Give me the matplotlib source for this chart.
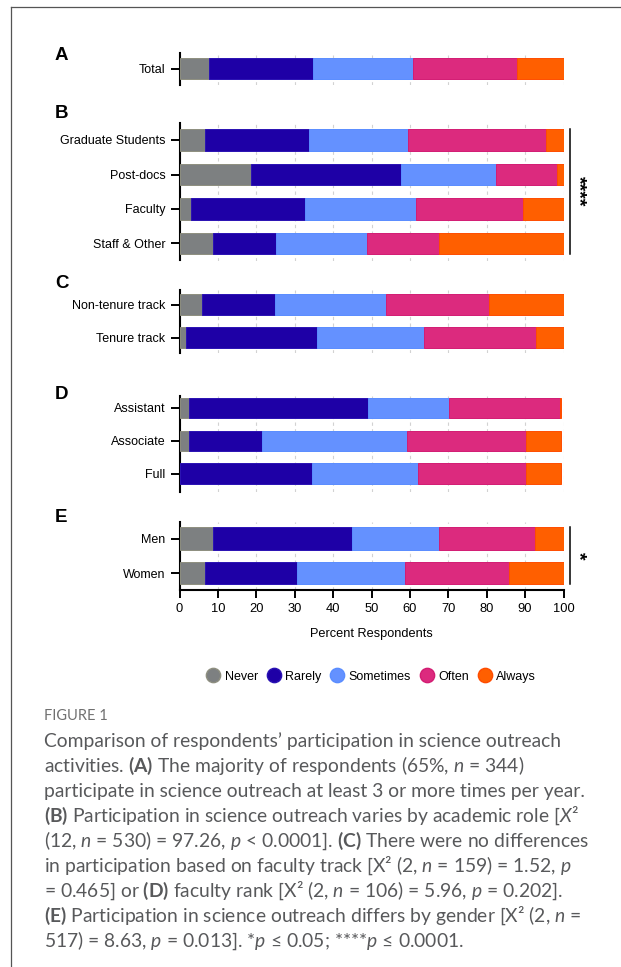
import matplotlib
matplotlib.use("Agg")
import matplotlib.pyplot as plt
from matplotlib.lines import Line2D
import numpy as np

plt.rcParams['font.family'] = ['Liberation Sans', 'DejaVu Sans']
plt.rcParams['mathtext.fontset'] = 'custom'
plt.rcParams['mathtext.rm'] = 'Lato'
plt.rcParams['mathtext.it'] = 'Lato:italic'
plt.rcParams['mathtext.bf'] = 'Lato:bold'

# ---- data: percent of respondents per response frequency ----
responses = ["Never", "Rarely", "Sometimes", "Often", "Always"]
colors = ["#7d8081", "#1e00a6", "#6491ff", "#dc2a7e", "#ff5f00"]
edge_colors = ["#8e8f80", "#2a12b4", "#5a8dff", "#d31c73", "#ff4c00"]

total_groups = ["Total"]
total_pct = [[7.6, 27.1, 26.0, 27.2, 12.1]]

role_groups = ["Graduate Students", "Post-docs", "Faculty", "Staff & Other"]
role_pct = [[6.7, 27.1, 25.8, 35.9, 4.5],
            [18.6, 39.0, 24.9, 15.8, 1.7],
            [3.0, 29.7, 29.0, 27.7, 10.6],
            [8.8, 16.2, 23.7, 18.8, 32.5]]

track_groups = ["Non-tenure track", "Tenure track"]
track_pct = [[5.8, 19.0, 29.1, 26.7, 19.4],
             [1.6, 34.1, 28.1, 29.1, 7.1]]

rank_groups = ["Assistant", "Associate", "Full"]
rank_pct = [[2.5, 46.7, 21.1, 28.8, 0.3],
            [2.5, 19.1, 37.7, 31.0, 9.1],
            [0.0, 34.5, 27.7, 28.1, 9.1]]

gender_groups = ["Men", "Women"]
gender_pct = [[8.6, 36.3, 22.8, 25.0, 7.3],
              [6.7, 23.9, 28.2, 26.9, 14.3]]

xticks = list(range(0, 101, 10))

# ---- figure geometry (pixels) ----
W, H = 621, 967
fig = plt.figure(figsize=(W / 100, H / 100), dpi=100)
X0, XW = 179.5, 384.0

# letter, groups, values, axes top, axes bottom, first bar centre, pitch, bar height, label centre y
panels = [
    ("A", total_groups, total_pct, 53.3, 85.0, 68.8, 34.0, 21.0, 53.3),
    ("B", role_groups, role_pct, 122.7, 260.5, 140.0, 34.5, 21.5, 111.7),
    ("C", track_groups, track_pct, 290.0, 353.3, 304.7, 33.1, 20.7, 281.0),
    ("D", rank_groups, rank_pct, 395.5, 491.7, 408.0, 32.9, 20.7, 392.0),
    ("E", gender_groups, gender_pct, 521.7, 590.0, 538.7, 34.4, 22.7, 515.0),
]

axes = {}
for letter, groups, vals, top, bot, first, pitch, barh_px, ly in panels:
    ax = fig.add_axes([X0 / W, 1 - bot / H, XW / W, (bot - top) / H])
    axes[letter] = ax
    vals = np.array(vals)
    ypos = np.arange(len(groups))
    left = np.zeros(len(groups))
    bh = barh_px / pitch
    for k in range(len(responses)):
        ax.barh(ypos, vals[:, k], left=left, height=bh, color=colors[k],
                edgecolor=edge_colors[k], linewidth=0.7, zorder=3)
        left += vals[:, k]
    ax.set_xlim(0, 100)
    ax.set_ylim((bot - first) / pitch, (top - first) / pitch)
    ax.set_yticks(ypos)
    ax.set_yticklabels(groups, fontsize=9)
    ax.set_xticks(xticks)
    ax.xaxis.grid(True, color="#d2d2d2", linestyle=(0, (3, 3)), linewidth=0.8, zorder=0)
    ax.set_axisbelow(True)
    for s in ("top", "right"):
        ax.spines[s].set_visible(False)
    ax.spines["left"].set_linewidth(1.5)
    ax.tick_params(axis="y", length=6.5, width=1.4, pad=3.5, colors="black")
    if letter == "E":
        ax.spines["bottom"].set_linewidth(1.5)
        ax.tick_params(axis="x", length=6, width=1.4, pad=3, labelsize=9.3)
        ax.set_xlabel("Percent Respondents", fontsize=9.2, labelpad=10)
    else:
        ax.spines["bottom"].set_visible(False)
        ax.tick_params(axis="x", length=0, labelbottom=False)
    ax.patch.set_alpha(0)
    fig.text(55 / W, 1 - (ly + 6.7) / H, letter, fontsize=13.5, fontweight="bold",
             ha="left", va="baseline")

# significance brackets
def bracket(ax, n, bh_units, stars, fs):
    ax.plot([101.6, 101.6], [-bh_units / 2, n - 1 + bh_units / 2], color="black",
            linewidth=1.1, clip_on=False, zorder=4)
    ax.text(103.9, (n - 1) / 2, stars, rotation=270, ha="center", va="center",
            fontsize=fs, fontweight="bold", clip_on=False)

bracket(axes["B"], len(role_groups), 21.5 / 34.5, "****", 14)
bracket(axes["E"], len(gender_groups), 22.7 / 34.4, "*", 14)

# legend
handles = [Line2D([], [], marker="o", linestyle="", markersize=10.3,
                  markerfacecolor=c, markeredgecolor=ec, markeredgewidth=1.0)
           for c, ec in zip(colors, edge_colors)]
fig.legend(handles, responses, loc="center", bbox_to_anchor=(371 / W, 1 - 676.7 / H),
           ncol=5, frameon=False, fontsize=9, handlelength=1.15, handletextpad=0.35,
           columnspacing=0.68, borderpad=0, borderaxespad=0)

# frame around the figure panel
fig.add_artist(Line2D([11 / W, 1], [1 - 7 / H, 1 - 7 / H], color="#555555", linewidth=0.9))
fig.add_artist(Line2D([11 / W, 11 / W], [1 - 7 / H, 0], color="#555555", linewidth=0.9))

# caption
cap_color = "#58595b"
fig.text(44 / W, 1 - 715.5 / H, "FIGURE 1", fontsize=10.5, color="#707070",
         family="Lato", va="center")
caption = [
    "Comparison of respondents\u2019 participation in science outreach",
    r"activities. $\mathbf{(A)}$ The majority of respondents (65%, $n$ = 344)",
    "participate in science outreach at least 3 or more times per year.",
    r"$\mathbf{(B)}$ Participation in science outreach varies by academic role [$X$²",
    r"(12, $n$ = 530) = 97.26, $p$ < 0.0001]. $\mathbf{(C)}$ There were no differences",
    r"in participation based on faculty track [X² (2, $n$ = 159) = 1.52, $p$",
    r"= 0.465] or $\mathbf{(D)}$ faculty rank [X² (2, $n$ = 106) = 5.96, $p$ = 0.202].",
    r"$\mathbf{(E)}$ Participation in science outreach differs by gender [X² (2, $n$ =",
    r"517) = 8.63, $p$ = 0.013]. *$p$ ≤ 0.05; ****$p$ ≤ 0.0001.",
]
for i, line in enumerate(caption):
    y = 741.0 + i * 25.0
    fig.text(44 / W, 1 - y / H, line, fontsize=13.9, color=cap_color, family="Lato",
             va="center")

fig.savefig("out.png", dpi=100, facecolor="white")
